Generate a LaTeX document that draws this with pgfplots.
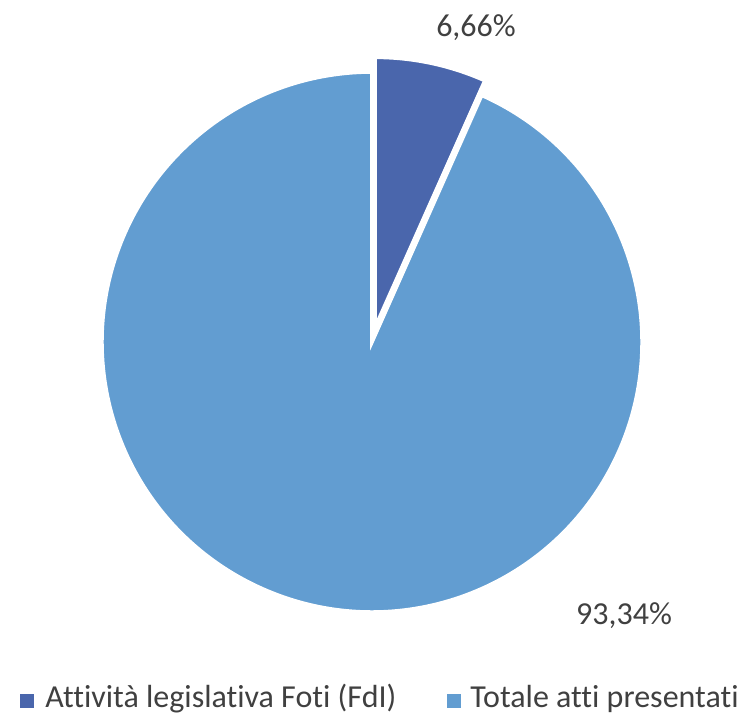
\documentclass[border=0pt]{standalone}
\usepackage{pgfplots}
\pgfplotsset{compat=1.18}
\usepackage{pgfplotstable}
\usepackage{fontspec}
\setmainfont{Carlito}[Ligatures=NoCommon]

\definecolor{slicea}{HTML}{4A66AC}
\definecolor{sliceb}{HTML}{629DD1}
\definecolor{txt}{HTML}{404040}

% share of each group (%)
\pgfplotstableread[col sep=comma]{
label,value
Attività legislativa Foti (FdI),6.66
Totale atti presentati,93.34
}\piedata

\begin{document}
\begin{tikzpicture}
\pgfplotstablegetelem{0}{value}\of\piedata \let\va\pgfplotsretval
\pgfplotstablegetelem{1}{value}\of\piedata \let\vb\pgfplotsretval
% pie geometry in pixel units of the reference
\def\cx{372}\def\cy{373}\def\r{270}\def\expl{15}
\pgfmathsetmacro{\aend}{90-3.6*\va}
\pgfmathsetmacro{\bend}{\aend-3.6*\vb}
\pgfmathsetmacro{\amid}{(90+\aend)/2}
\pgfmathsetmacro{\bx}{\cx+\r*cos(\aend)}
\pgfmathsetmacro{\by}{\cy+\r*sin(\aend)}
\pgfmathsetmacro{\sx}{\cx+\expl*cos(\amid)}
\pgfmathsetmacro{\sy}{\cy+\expl*sin(\amid)}
\pgfmathsetmacro{\sty}{\sy+\r}
\begin{axis}[
    name=pie,
    x=0.5pt, y=0.5pt,
    xmin=0, xmax=748, ymin=0, ymax=715,
    hide axis,
    clip=false,
]
% big slice
\filldraw[fill=sliceb, draw=white, line width=1.8pt, line join=miter]
    (axis cs:\cx,\cy) -- (axis cs:\bx,\by)
    arc[start angle=\aend, end angle=\bend, radius=\r] -- cycle;
% small exploded slice
\filldraw[fill=slicea, draw=white, line width=1.8pt, line join=miter]
    (axis cs:\sx,\sty)
    arc[start angle=90, end angle=\aend, radius=\r]
    -- (axis cs:\sx,\sy) -- cycle;

% data labels
\node[anchor=base, text=txt, font=\fontsize{16}{19}\selectfont]
    at (axis cs:476,678) {6,66\%};
\node[anchor=base, text=txt, font=\fontsize{16}{19}\selectfont]
    at (axis cs:624,90) {93,34\%};

% legend
\fill[slicea] (axis cs:20,7) rectangle (axis cs:34,21);
\node[anchor=base west, inner sep=0pt, text=txt, font=\fontsize{16}{19}\selectfont]
    at (axis cs:45,7) {Attività legislativa Foti (FdI)};
\fill[sliceb] (axis cs:447,7) rectangle (axis cs:461,21);
\node[anchor=base west, inner sep=0pt, text=txt, font=\fontsize{16}{19}\selectfont]
    at (axis cs:470,7) {Totale atti presentati};
\end{axis}
\pgfresetboundingbox
\path (pie.south west) rectangle (pie.north east);
\end{tikzpicture}
\end{document}
